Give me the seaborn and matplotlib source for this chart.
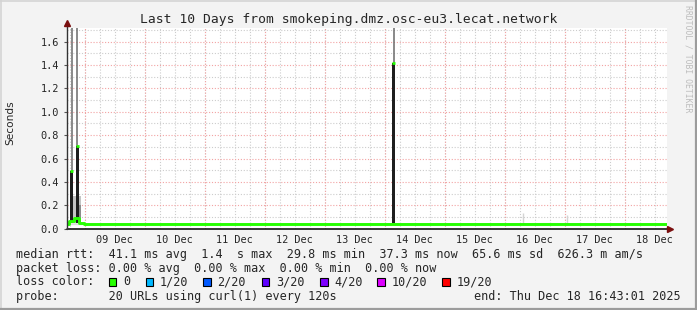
import numpy as np
import pandas as pd
import matplotlib
matplotlib.use("Agg")
import matplotlib.pyplot as plt
import seaborn as sns
from matplotlib.patches import Rectangle
from matplotlib.lines import Line2D

# ---------------- data ----------------
title = "Last 10 Days from smokeping.dmz.osc-eu3.lecat.network"
day_labels = ["09 Dec", "10 Dec", "11 Dec", "12 Dec", "13 Dec",
              "14 Dec", "15 Dec", "16 Dec", "17 Dec", "18 Dec"]
y_ticks = [0.0, 0.2, 0.4, 0.6, 0.8, 1.0, 1.2, 1.4, 1.6]

# hours since start of window (Dec 08 16:43:01)
base_hours = list(range(0, 241, 2))
base_median = [
    0.040, 0.062, 0.088, 0.047, 0.041, 0.039, 0.042, 0.040, 0.043, 0.041, 0.038, 0.042,
    0.044, 0.040, 0.039, 0.041, 0.043, 0.040, 0.038, 0.042, 0.041, 0.039, 0.044, 0.041,
    0.040, 0.042, 0.039, 0.041, 0.043, 0.038, 0.040, 0.042, 0.041, 0.039, 0.040, 0.043,
    0.041, 0.039, 0.042, 0.040, 0.038, 0.041, 0.043, 0.040, 0.042, 0.039, 0.041, 0.040,
    0.042, 0.044, 0.040, 0.039, 0.041, 0.043, 0.040, 0.042, 0.038, 0.041, 0.040, 0.042,
    0.043, 0.041, 0.039, 0.040, 0.042, 0.041, 0.040, 0.044, 0.042, 0.039, 0.041, 0.040,
    0.042, 0.040, 0.037, 0.037, 0.038, 0.041, 0.043, 0.042, 0.040, 0.044, 0.041, 0.042,
    0.043, 0.040, 0.042, 0.044, 0.041, 0.039, 0.042, 0.043, 0.040, 0.041, 0.044, 0.042,
    0.041, 0.043, 0.040, 0.042, 0.041, 0.043, 0.040, 0.039, 0.036, 0.044, 0.041, 0.043,
    0.040, 0.042, 0.044, 0.041, 0.043, 0.040, 0.042, 0.041, 0.043, 0.040, 0.042, 0.039,
    0.037,
]
smoke_hours = list(range(0, 241, 12))
smoke_low = [0.034, 0.035, 0.034, 0.035, 0.034, 0.035, 0.034, 0.035, 0.034, 0.035, 0.034,
             0.035, 0.034, 0.035, 0.034, 0.035, 0.034, 0.035, 0.034, 0.035, 0.034]
smoke_top = [0.052, 0.050, 0.051, 0.050, 0.052, 0.051, 0.050, 0.052, 0.051, 0.050, 0.052,
             0.053, 0.051, 0.052, 0.053, 0.052, 0.054, 0.052, 0.053, 0.052, 0.051]

# big latency spikes: median and smoke range
spike_hours = [2.1, 4.3, 130.9]
spike_median = [0.49, 0.71, 1.42]
spike_low = [0.045, 0.045, 0.045]
spike_top = [1.80, 1.80, 1.80]

# grey haze next to the first spikes
haze_hours = [4.2, 5.2]
haze_width = [3.2, 1.2]
haze_top = [0.28, 0.20]

# small smoke whiskers
whisker_hours = [182.6, 200.2]
whisker_top = [0.13, 0.12]

first_midnight = 7.283   # Dec 09 00:00 in hours since start

loss_labels = ["0", "1/20", "2/20", "3/20", "4/20", "10/20", "19/20"]
loss_colors = ["#26ff00", "#00b8ff", "#0059ff", "#5e00ff", "#7e00ff", "#dd00ff", "#ff0000"]

row_rtt = "median rtt:  41.1 ms avg  1.4  s max  29.8 ms min  37.3 ms now  65.6 ms sd  626.3 m am/s"
row_loss = "packet loss: 0.00 % avg  0.00 % max  0.00 % min  0.00 % now"
row_color = "loss color:"
row_probe = "probe:       20 URLs using curl(1) every 120s"
row_end = "end: Thu Dec 18 16:43:01 2025"

# ---------------- drawing ----------------
sns.set_style("white")
plt.rcParams["font.family"] = ["DejaVu Sans Mono", "DejaVu Sans"]

W, H = 697, 310
fig = plt.figure(figsize=(W / 100, H / 100), dpi=100, facecolor="#f3f3f3")

def fx(px):
    return px / W

def fy(py):
    return 1 - py / H

ax_l, ax_r, ax_t, ax_b = 66.5, 666.5, 27.5, 228.7
ax = fig.add_axes([fx(ax_l), fy(ax_b), (ax_r - ax_l) / W, (ax_b - ax_t) / H])
ax.set_facecolor("white")
ax.set_xlim(0, 240)
ax.set_ylim(0, 1.72)
for s in ax.spines.values():
    s.set_visible(False)

# grid
dot = (0, (1, 1.6))
minor_v = np.arange(first_midnight % 6, 240, 6)
major_v = np.arange(first_midnight, 240, 24)
for h in minor_v:
    ax.axvline(h, color="#cccccc", lw=0.8, ls=dot, zorder=0)
for v in np.arange(0.1, 1.72, 0.2):
    ax.axhline(v, color="#cccccc", lw=0.8, ls=dot, zorder=0)
for h in major_v:
    ax.axvline(h, color="#f2a3a3", lw=0.8, ls=dot, zorder=0.5)
for v in np.arange(0.2, 1.72, 0.2):
    ax.axhline(v, color="#f2a3a3", lw=0.8, ls=dot, zorder=0.5)

# smoke band
ax.fill_between(smoke_hours, smoke_low, smoke_top, color="#dcdcdc", lw=0, zorder=1)

# haze near first spikes
ax.bar(haze_hours, [t - 0.045 for t in haze_top], bottom=0.045, width=haze_width,
       color=["#c4c4c4", "#8c8c8c"], lw=0, zorder=1.2)

# whiskers
ax.vlines(whisker_hours, 0.05, whisker_top, color="#d4d4d4", lw=1, zorder=1.1)

# spikes: dark smoke below median, lighter above
ax.vlines(spike_hours, spike_median, spike_top, color="#6a6a6a", lw=1.1, zorder=2)
ax.bar(spike_hours, [m - l for m, l in zip(spike_median, spike_low)], bottom=spike_low,
       width=1.2, color="#1e1e1e", lw=0, zorder=2.1)

# median line
df = pd.DataFrame({"hours": base_hours, "median": base_median})
sns.lineplot(data=df, x="hours", y="median", ax=ax, color=loss_colors[0], lw=2.1,
             drawstyle="steps-mid", estimator=None, zorder=3)
ax.hlines(spike_median, [h - 0.6 for h in spike_hours], [h + 0.6 for h in spike_hours],
          color=loss_colors[0], lw=2, zorder=3.1)

ax.set_xlabel("")
ax.set_ylabel("")

# ticks
ax.set_yticks(y_ticks)
ax.set_yticklabels([f"{v:.1f}" for v in y_ticks])
ax.set_xticks(np.arange(first_midnight + 12, 240, 24))
ax.set_xticklabels(day_labels)
ax.tick_params(axis="y", length=2.5, width=0.8, color="#555555", pad=3, labelsize=7.4,
               left=True)
ax.tick_params(axis="x", length=0, pad=4.5, labelsize=7.4)

# axes with arrows
ax.plot([0, 1.003], [0, 0], transform=ax.transAxes, color="black", lw=1.1,
        clip_on=False, zorder=5)
ax.plot([1.0065], [0], transform=ax.transAxes, marker=">", ms=4.5, color="#7a0f0f",
        clip_on=False, zorder=5)
ax.plot([0, 0], [0, 1.012], transform=ax.transAxes, color="#333333", lw=1.0,
        clip_on=False, zorder=5)
ax.plot([0], [1.021], transform=ax.transAxes, marker="^", ms=4.5, color="#7a0f0f",
        clip_on=False, zorder=5)

# title, labels
fig.text(fx(348.5), fy(19.5), title, ha="center", va="center", fontsize=9.4)
fig.text(fx(10), fy(123), "Seconds", rotation=90, ha="center", va="center",
         fontsize=7.6, family=["DejaVu Sans"])
fig.text(fx(688), fy(59), "RRDTOOL / TOBI OETIKER", rotation=270, ha="center",
         va="center", fontsize=5.9, color="#bdbdbd")

# legend rows
fs = 8.45
fig.text(fx(16), fy(254.3), row_rtt, ha="left", va="center", fontsize=fs)
fig.text(fx(16), fy(268.3), row_loss, ha="left", va="center", fontsize=fs)
fig.text(fx(16), fy(281.7), row_color, ha="left", va="center", fontsize=fs)
fig.text(fx(16), fy(296.3), row_probe, ha="left", va="center", fontsize=fs)
fig.text(fx(681), fy(296.3), row_end, ha="right", va="center", fontsize=fs)

box_x = [108.7, 145.7, 203.3, 261.7, 320.0, 377.3, 442.0]
for bx, lab, col in zip(box_x, loss_labels, loss_colors):
    fig.patches.append(Rectangle((fx(bx), fy(285.7)), 7.5 / W, 8 / H,
                                 transform=fig.transFigure, facecolor=col,
                                 edgecolor="black", lw=0.8))
    fig.text(fx(bx + 14.2), fy(281.7), lab, ha="left", va="center", fontsize=fs)

# image frame
fig.add_artist(Line2D([0.5 / W, 0.5 / W], [0, 1], color="#d4d4d4", lw=1.2,
                      transform=fig.transFigure))
fig.add_artist(Line2D([0, 1], [1 - 0.5 / H, 1 - 0.5 / H], color="#d4d4d4", lw=1.2,
                      transform=fig.transFigure))
fig.add_artist(Line2D([1 - 1 / W, 1 - 1 / W], [0, 1], color="#9c9c9c", lw=1.6,
                      transform=fig.transFigure))
fig.add_artist(Line2D([0, 1], [1 / H, 1 / H], color="#9c9c9c", lw=1.6,
                      transform=fig.transFigure))

fig.savefig("out.png", dpi=100, facecolor=fig.get_facecolor())
